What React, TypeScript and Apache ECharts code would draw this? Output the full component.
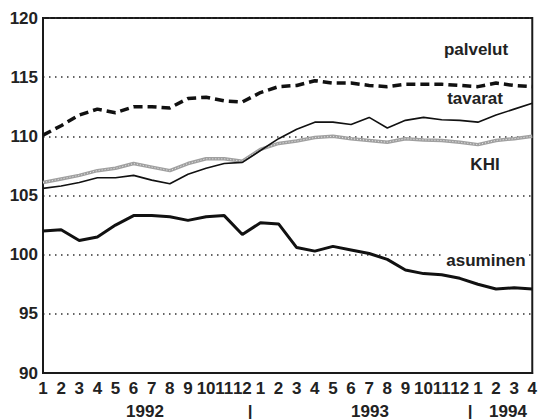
import React, { useEffect, useRef } from "react";
import * as echarts from "echarts";

const months: string[] = [
  "1", "2", "3", "4", "5", "6", "7", "8", "9", "10", "11", "12",
  "1", "2", "3", "4", "5", "6", "7", "8", "9", "10", "11", "12",
  "1", "2", "3", "4",
];

const palvelut: number[] = [
  110.1, 110.9, 111.8, 112.3, 112.0, 112.5, 112.5, 112.4, 113.2, 113.3, 113.0, 112.9,
  113.7, 114.2, 114.3, 114.7, 114.5, 114.5, 114.3, 114.2, 114.4, 114.4, 114.4, 114.3,
  114.2, 114.5, 114.3, 114.2,
];

const tavarat: number[] = [
  105.6, 105.8, 106.1, 106.5, 106.5, 106.7, 106.3, 106.0, 106.8, 107.3, 107.7, 107.8,
  108.8, 109.8, 110.6, 111.2, 111.2, 111.0, 111.6, 110.7, 111.35, 111.6, 111.4, 111.35,
  111.2, 111.8, 112.3, 112.8,
];

const khi: number[] = [
  106.1, 106.4, 106.7, 107.1, 107.3, 107.7, 107.4, 107.1, 107.7, 108.1, 108.1, 107.9,
  108.9, 109.4, 109.6, 109.9, 110.0, 109.8, 109.65, 109.5, 109.8, 109.7, 109.65, 109.5,
  109.3, 109.65, 109.8, 110.0,
];

const asuminen: number[] = [
  102.0, 102.1, 101.2, 101.5, 102.5, 103.3, 103.3, 103.2, 102.9, 103.2, 103.3, 101.7,
  102.7, 102.6, 100.6, 100.3, 100.7, 100.4, 100.1, 99.6, 98.7, 98.4, 98.3, 98.0,
  97.5, 97.1, 97.2, 97.1,
];

const seriesLabels = ["palvelut", "tavarat", "KHI", "asuminen"];
const yearLabels = ["1992", "|", "1993", "|", "1994"];

const FONT = "'Liberation Sans', Arial, Helvetica, sans-serif";
const FS = 17;

export default function App() {
  const ref = useRef<HTMLDivElement>(null);
  useEffect(() => {
    if (!ref.current) return;
    const chart = echarts.init(ref.current, null, { renderer: "svg" });
    const textStyle = (x: number, y: number, t: string, bg = false) => ({
      type: "text",
      x,
      y,
      z: 100,
      style: {
        text: t,
        font: `bold ${FS}px ${FONT}`,
        fill: "#222222",
        align: "center",
        verticalAlign: "middle",
        backgroundColor: bg ? "#ffffff" : undefined,
        padding: bg ? [0, 3] : undefined,
      },
    });
    chart.setOption({
      animation: false,
      backgroundColor: "#ffffff",
      grid: {
        left: 43,
        right: 5,
        top: 18,
        bottom: 46,
        show: true,
        borderColor: "#1a1a1a",
        borderWidth: 2,
        backgroundColor: "transparent",
      },
      xAxis: {
        type: "category",
        data: months,
        boundaryGap: false,
        axisLine: { show: true, lineStyle: { color: "#1a1a1a", width: 2 } },
        axisTick: { show: false },
        splitLine: { show: false },
        axisLabel: {
          interval: 0,
          color: "#222222",
          fontSize: FS,
          fontWeight: "bold",
          fontFamily: FONT,
          margin: 7,
        },
      },
      yAxis: {
        type: "value",
        min: 90,
        max: 120,
        interval: 5,
        axisLine: { show: true, lineStyle: { color: "#1a1a1a", width: 2 } },
        axisTick: { show: false },
        splitLine: {
          show: true,
          lineStyle: { color: "#333", type: [1.5, 4.5], width: 1.5 },
        },
        axisLabel: {
          color: "#222222",
          fontSize: FS,
          fontWeight: "bold",
          fontFamily: FONT,
          margin: 5,
        },
      },
      series: [
        {
          name: seriesLabels[0],
          type: "line",
          data: palvelut,
          symbol: "none",
          lineStyle: { color: "#111", width: 3.5, type: [9, 5] },
          z: 4,
        },
        {
          name: seriesLabels[2],
          type: "line",
          data: khi,
          symbol: "none",
          lineStyle: { color: "#a0a0a0", width: 3.5 },
          z: 2,
        },
        {
          name: seriesLabels[2] + "-texture",
          type: "line",
          data: khi,
          symbol: "none",
          lineStyle: { color: "#ececec", width: 1, type: [1, 2] },
          z: 3,
        },
        {
          name: seriesLabels[1],
          type: "line",
          data: tavarat,
          symbol: "none",
          lineStyle: { color: "#111", width: 1.6 },
          z: 5,
        },
        {
          name: seriesLabels[3],
          type: "line",
          data: asuminen,
          symbol: "none",
          lineStyle: { color: "#111", width: 3 },
          z: 5,
        },
      ],
      graphic: [
        textStyle(476, 49, seriesLabels[0]),
        textStyle(475, 98, seriesLabels[1]),
        textStyle(485, 164, seriesLabels[2]),
        textStyle(486, 260, seriesLabels[3], true),
        textStyle(145, 411, yearLabels[0]),
        textStyle(250, 411, yearLabels[1]),
        textStyle(370, 411, yearLabels[2]),
        textStyle(470, 411, yearLabels[3]),
        textStyle(508, 411, yearLabels[4]),
      ],
    });
    return () => chart.dispose();
  }, []);
  return (
    <div
      ref={ref}
      style={{ position: "fixed", left: 0, top: 0, width: 540, height: 419 }}
    />
  );
}
